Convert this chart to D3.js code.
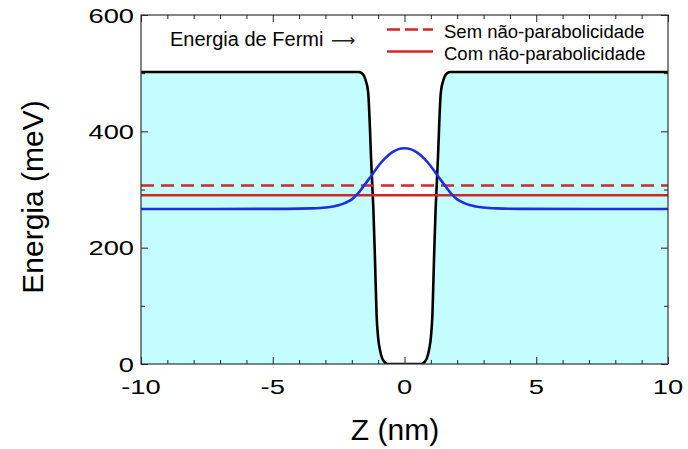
<!DOCTYPE html>
<html><head><meta charset="utf-8">
<script src="https://cdn.jsdelivr.net/npm/d3@7"></script>
<style>body{margin:0;background:#fff}svg{display:block}text{font-family:"Liberation Sans",Arial,sans-serif;fill:#000}</style>
</head><body><svg id="c" width="688" height="449"></svg>
<script>
// ---- data ----
const potZ = [-10,-1.75,-1.62,-1.52,-1.45,-1.4,-1.37,-1.32,-1.27,-1.22,-1.18,-1.12,-1.06,-1.0,-0.93,-0.85,-0.75,-0.63,0.63,0.75,0.85,0.93,1.0,1.06,1.12,1.18,1.22,1.27,1.32,1.37,1.4,1.45,1.52,1.62,1.75,10];
const potV = [502,502,500,494,484,474,462,415,355,305,265,180,85,45,24,10,3,0,0,3,10,24,45,85,180,265,305,355,415,462,474,484,494,500,502,502];
const psiZ = [-10,-4.5,-3.5,-3,-2.5,-2.25,-2,-1.75,-1.5,-1.25,-1,-0.75,-0.5,-0.25,0,0.25,0.5,0.75,1,1.25,1.5,1.75,2,2.25,2.5,3,3.5,4.5,10];
const psiV = [266.5,266.7,267.5,269,273,277,283,294,309,324,340,353,363,369,371,369,363,353,340,324,309,294,283,277,273,269,267.5,266.7,266.5];
const fermiSem = 307;
const fermiCom = 290;
const xTicks = [-10,-5,0,5,10];
const yTicks = [0,200,400,600];
const legendLabels = ["Sem não-parabolicidade","Com não-parabolicidade"];

const svg = d3.select("#c");
const x = d3.scaleLinear([-10,10],[141,668]);
const y = d3.scaleLinear([0,600],[364,15]);
const pot = potZ.map((z,i)=>({z,v:potV[i]}));
const psi = psiZ.map((z,i)=>({z,v:psiV[i]}));

const g = svg.append("g");
g.append("clipPath").attr("id","clip").append("rect").attr("x",141).attr("y",15).attr("width",527).attr("height",349);
const plot = g.append("g").attr("clip-path","url(#clip)");

plot.append("path").datum(pot)
  .attr("d",d3.area().x(d=>x(d.z)).y0(y(0)).y1(d=>y(d.v)).curve(d3.curveMonotoneX))
  .attr("fill","#c3fdfd");
plot.append("path").datum(pot)
  .attr("d",d3.line().x(d=>x(d.z)).y(d=>y(d.v)).curve(d3.curveMonotoneX))
  .attr("fill","none").attr("stroke","#000").attr("stroke-width",2.6);
plot.append("line").attr("x1",x(-10)).attr("x2",x(10)).attr("y1",y(fermiSem)).attr("y2",y(fermiSem))
  .attr("stroke","#d42628").attr("stroke-width",2.4).attr("stroke-dasharray","13,7");
plot.append("line").attr("x1",x(-10)).attr("x2",x(10)).attr("y1",y(fermiCom)).attr("y2",y(fermiCom))
  .attr("stroke","#d42628").attr("stroke-width",2.4);
plot.append("path").datum(psi)
  .attr("d",d3.line().x(d=>x(d.z)).y(d=>y(d.v)).curve(d3.curveMonotoneX))
  .attr("fill","none").attr("stroke","#1d2ee6").attr("stroke-width",2.6);

// axes (ticks inward)
function styleAxis(sel){ sel.select(".domain").remove(); sel.selectAll("line").attr("stroke","#222").attr("stroke-width",1); }
const minorX = d3.range(-10,11,1).filter(v=>v%5!==0);
const minorY = [100,300,500];
g.append("g").attr("transform","translate(0,364)").call(d3.axisBottom(x).tickValues(minorX).tickSize(-4).tickFormat("")).call(styleAxis);
g.append("g").attr("transform","translate(0,364)").call(d3.axisBottom(x).tickValues(xTicks).tickSize(-7).tickFormat("")).call(styleAxis);
g.append("g").attr("transform","translate(0,15)").call(d3.axisTop(x).tickValues(minorX).tickSize(-4).tickFormat("")).call(styleAxis);
g.append("g").attr("transform","translate(0,15)").call(d3.axisTop(x).tickValues(xTicks).tickSize(-7).tickFormat("")).call(styleAxis);
g.append("g").attr("transform","translate(141,0)").call(d3.axisLeft(y).tickValues(minorY).tickSize(-4).tickFormat("")).call(styleAxis);
g.append("g").attr("transform","translate(141,0)").call(d3.axisLeft(y).tickValues(yTicks).tickSize(-7).tickFormat("")).call(styleAxis);
g.append("g").attr("transform","translate(668,0)").call(d3.axisRight(y).tickValues(minorY).tickSize(-4).tickFormat("")).call(styleAxis);
g.append("g").attr("transform","translate(668,0)").call(d3.axisRight(y).tickValues(yTicks).tickSize(-7).tickFormat("")).call(styleAxis);
g.append("rect").attr("x",141).attr("y",15).attr("width",527).attr("height",349).attr("fill","none").attr("stroke","#333").attr("stroke-width",1.2);

// tick labels
xTicks.forEach(v=>{
  g.append("text").attr("transform",`translate(${x(v)},394) scale(1.3,1)`).attr("text-anchor","middle")
   .attr("font-size",21).text(v<0?"-"+Math.abs(v):String(v));
});
yTicks.forEach(v=>{
  g.append("text").attr("transform",`translate(134,${y(v)+7.5}) scale(1.3,1)`).attr("text-anchor","end")
   .attr("font-size",21).text(String(v));
});

// axis titles
g.append("text").attr("x",395).attr("y",440).attr("text-anchor","middle").attr("font-size",30).text("Z (nm)");
g.append("text").attr("transform","translate(43,197) rotate(-90)").attr("text-anchor","middle").attr("font-size",30).text("Energia (meV)");

// annotation + legend
const ann = g.append("text").attr("x",170).attr("y",46).attr("font-size",20);
ann.append("tspan").text("Energia de Fermi ");
ann.append("tspan").attr("dx",2).attr("font-family","DejaVu Sans").attr("font-size",17).attr("fill","#222").text("\u27F6");
g.append("line").attr("x1",387).attr("x2",433).attr("y1",29.5).attr("y2",29.5).attr("stroke","#d42628").attr("stroke-width",2.4).attr("stroke-dasharray","13,5");
g.append("line").attr("x1",387).attr("x2",433).attr("y1",51.5).attr("y2",51.5).attr("stroke","#d42628").attr("stroke-width",2.4);
g.append("text").attr("x",444).attr("y",37.5).attr("font-size",18.5).text(legendLabels[0]);
g.append("text").attr("x",444).attr("y",59.5).attr("font-size",18.5).text(legendLabels[1]);
</script></body></html>
